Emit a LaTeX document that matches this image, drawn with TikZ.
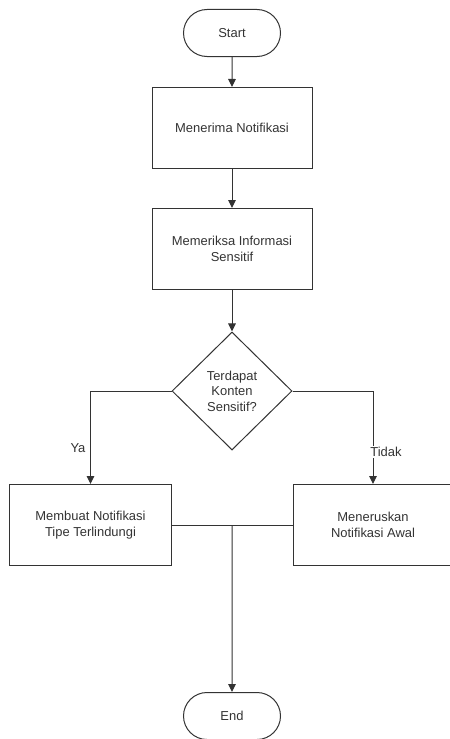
\documentclass[tikz,border=0pt]{standalone}
\usepackage{fontspec}
\setmainfont{Liberation Sans}
\usetikzlibrary{shapes.geometric,shapes.misc,arrows.meta}
\definecolor{ln}{HTML}{333333}
\definecolor{tx}{HTML}{333333}
\tikzset{
  base/.style={draw=ln, line width=1bp, text=tx, font=\fontsize{13}{15.5}\selectfont, align=center, inner sep=0pt},
  term/.style={base, rounded rectangle, minimum width=97bp, minimum height=47bp},
  proc/.style={base, rectangle, minimum width=160bp, minimum height=81bp},
  dec/.style={base, diamond, minimum width=120bp, minimum height=118bp, shape aspect=1.02},
  conn/.style={draw=ln, line width=1bp, -{Triangle[length=8bp,width=7.5bp]}},
  plain/.style={draw=ln, line width=1bp},
  lbl/.style={text=tx, font=\fontsize{13}{15.5}\selectfont, inner sep=1bp}
}
\begin{document}
\begin{tikzpicture}[x=1bp,y=-1bp]
\useasboundingbox (0,0) rectangle (450,739);
\node[term] (start) at (232,33) {Start};
\node[proc] (p1) at (232,128) {Menerima Notifikasi};
\node[proc] (p2) at (232,249) {Memeriksa Informasi\\Sensitif};
\node[dec] (d) at (232,391) {Terdapat\\Konten\\Sensitif?};
\node[proc, minimum width=161bp] (p3) at (90.5,525) {Membuat Notifikasi\\Tipe Terlindungi};
\node[proc] (p4) at (373,525) {Meneruskan\\Notifikasi Awal};
\node[term] (end) at (232,716) {End};
\coordinate (m) at (232,525);
\draw[conn] (start) -- (p1);
\draw[conn] (p1) -- (p2);
\draw[conn] (p2) -- (d);
\draw[conn] (d.west) -| (p3.north);
\draw[conn] (d.east) -| (p4.north);
\draw[plain] (p3.east) -- (p4.west);
\draw[conn] (m) -- (end);
\node[lbl] (ya) at (78,448) {Ya};
\node[lbl, fill=white] (tidak) at (386,452) {Tidak};
\end{tikzpicture}
\end{document}
